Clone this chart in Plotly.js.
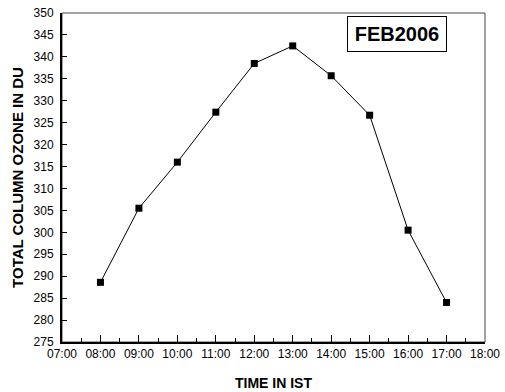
<!DOCTYPE html>
<html>
<head>
<meta charset="utf-8">
<script src="https://cdn.plot.ly/plotly-3.0.1.min.js"></script>
<style>html,body{margin:0;padding:0;background:#fff;}#chart{width:505px;height:392px;}</style>
</head>
<body>
<div id="chart"></div>
<script>
// Data
var timeHours = [8, 9, 10, 11, 12, 13, 14, 15, 16, 17];
var ozoneDU = [288.6, 305.5, 316.0, 327.4, 338.5, 342.5, 335.7, 326.7, 300.5, 284.0];
var xTickVals = [7, 8, 9, 10, 11, 12, 13, 14, 15, 16, 17, 18];
var xTickText = ["07:00", "08:00", "09:00", "10:00", "11:00", "12:00", "13:00", "14:00", "15:00", "16:00", "17:00", "18:00"];
var xMinorVals = [7.5, 8.5, 9.5, 10.5, 11.5, 12.5, 13.5, 14.5, 15.5, 16.5, 17.5];
var yTickVals = [275, 280, 285, 290, 295, 300, 305, 310, 315, 320, 325, 330, 335, 340, 345, 350];
var labelText = "FEB2006";

var trace = {
  x: timeHours,
  y: ozoneDU,
  type: 'scatter',
  mode: 'lines+markers',
  line: {color: '#000', width: 1},
  marker: {symbol: 'square', size: 7, color: '#000'},
  showlegend: false,
  hoverinfo: 'none'
};

var layout = {
  width: 505,
  height: 392,
  margin: {l: 62, r: 20, t: 13, b: 50},
  paper_bgcolor: '#fff',
  plot_bgcolor: '#fff',
  font: {family: 'Arial, "Liberation Sans", sans-serif', color: '#000', size: 12},
  xaxis: {
    range: [7, 18],
    tickmode: 'array',
    tickvals: xTickVals,
    ticktext: xTickText,
    ticks: 'inside',
    ticklen: 7,
    tickwidth: 1,
    tickcolor: '#000',
    minor: {tickmode: 'array', tickvals: xMinorVals, ticks: 'inside', ticklen: 4, tickwidth: 1, tickcolor: '#000', showgrid: false},
    showgrid: false,
    zeroline: false,
    showline: true,
    linecolor: '#000',
    linewidth: 2,
    mirror: false,
    tickfont: {size: 12, color: '#000'},
    title: {text: 'TIME IN IST', font: {size: 14, weight: 'bold', color: '#000'}, standoff: 18}
  },
  yaxis: {
    range: [275, 350],
    tickmode: 'array',
    tickvals: yTickVals,
    ticks: 'inside',
    ticklen: 5,
    tickwidth: 1,
    tickcolor: '#000',
    showgrid: false,
    zeroline: false,
    showline: true,
    linecolor: '#000',
    linewidth: 2,
    mirror: false,
    ticklabelstandoff: 4,
    tickfont: {size: 12, color: '#000'},
    title: {text: 'TOTAL COLUMN OZONE IN DU', font: {size: 15, weight: 'bold', color: '#000'}, standoff: 6}
  },
  shapes: [{
    type: 'rect', xref: 'paper', yref: 'paper', x0: 0, x1: 1, y0: 0, y1: 1,
    line: {color: '#444', width: 1}, layer: 'below'
  }],
  annotations: [{
    text: labelText,
    xref: 'paper', yref: 'paper', x: 0.792, y: 0.936,
    xanchor: 'center', yanchor: 'middle',
    showarrow: false,
    font: {size: 20, weight: 'bold', color: '#000'},
    bgcolor: '#fff',
    bordercolor: '#000',
    borderwidth: 1,
    borderpad: 1,
    width: 96,
    height: 32
  }]
};

Plotly.newPlot('chart', [trace], layout, {displayModeBar: false, staticPlot: true});
</script>
</body>
</html>
